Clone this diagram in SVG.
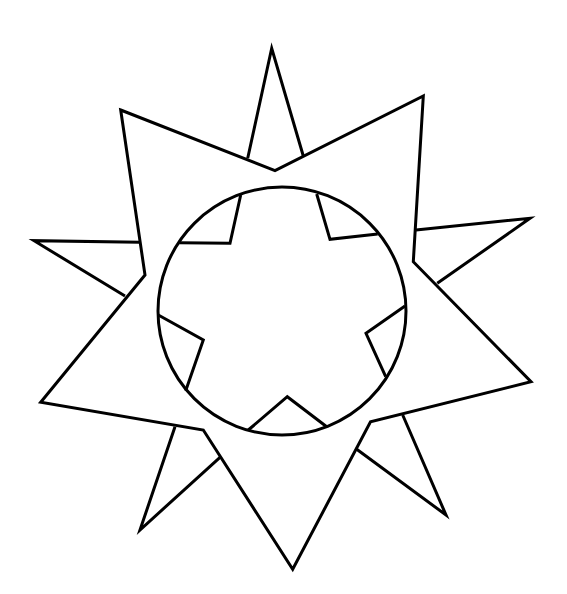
<svg xmlns="http://www.w3.org/2000/svg" width="567" height="594" viewBox="0 0 567 594">
<style>
.l{fill:none;stroke:#000;stroke-width:3;stroke-linejoin:miter;stroke-miterlimit:20}
.w{fill:#fff;stroke:#000;stroke-width:3;stroke-linejoin:miter;stroke-miterlimit:20}
</style>
<rect width="567" height="594" fill="#fff"/>
<g id="back-star">
<path class="l" d="M247.7,158.3 L271.7,48.3 L303.3,156"/>
<path class="l" d="M416,230 L530,218.3 L437.3,283.3"/>
<path class="l" d="M402.7,415 L446,515 L356.7,449.3"/>
<path class="l" d="M175,426.7 L140,530 L220,457.3"/>
<path class="l" d="M140,242.3 L34,240.7 L125,296"/>
</g>
<g id="front-star">
<polygon class="w" points="120.7,110 275,170.7 423.3,96 413.3,261.7 531,381.7 370.5,421.7 292.7,569.3 203.3,430 40.7,402.3 145,275"/>
</g>
<g id="circle">
<circle class="w" cx="282" cy="311" r="124"/>
</g>
<g id="inner-star">
<path class="l" d="M240.7,195 L230,243.3 L179.3,242.7"/>
<path class="l" d="M316.7,194 L330,239.3 L377.7,234"/>
<path class="l" d="M405,306 L366,333.3 L385.7,376.7"/>
<path class="l" d="M326.7,426.7 L287.3,396.7 L248.3,430"/>
<path class="l" d="M185.7,390.7 L203.3,340 L158.3,315"/>
</g>
</svg>
